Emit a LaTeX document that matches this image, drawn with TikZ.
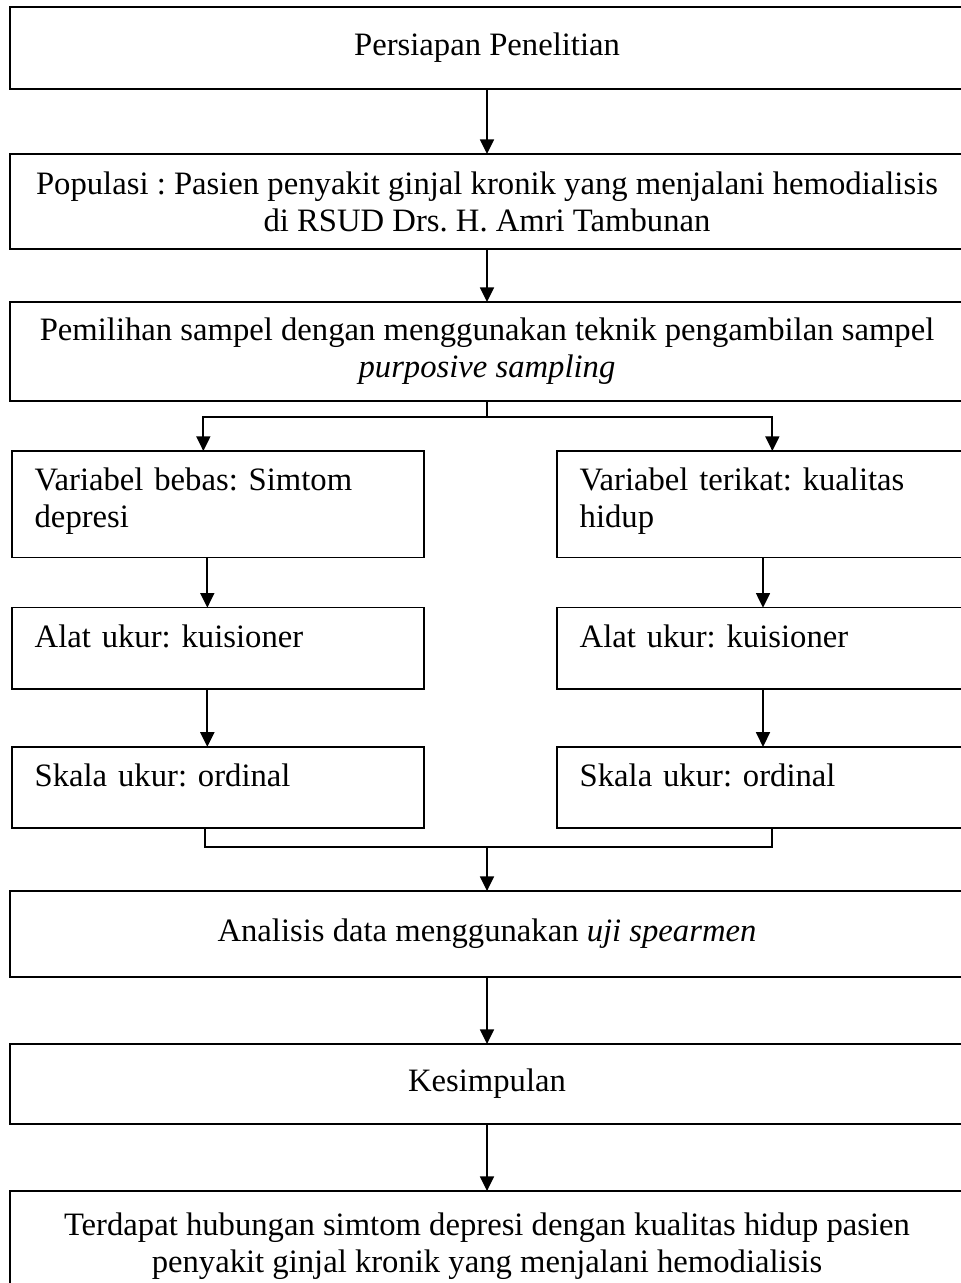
\documentclass[tikz,border=0pt]{standalone}
\usepackage{fontspec}
\setmainfont{Liberation Serif}
\frenchspacing
\usetikzlibrary{positioning,arrows.meta}
\tikzset{
  box/.style  ={draw, line width=1.3pt, inner sep=4pt, outer sep=0pt, align=center,
                font=\fontsize{24.5}{27.75}\selectfont},
  wide/.style ={box, minimum width=715.5pt},
  col/.style  ={draw, line width=1.1pt, inner xsep=17pt, inner ysep=12.75pt, outer sep=0pt,
                text width=275pt, align=left, text depth=18.4pt,
                font=\fontsize{24.5}{27.75}\selectfont},
  fl/.style   ={-{Triangle[length=11pt,width=10.5pt]}, line width=1.3pt},
  ln/.style   ={line width=1.3pt}
}

\begin{document}
\begin{tikzpicture}
  \clip (0,0) rectangle (720.75pt,-962.25pt);
  \node[wide, minimum height=61.5pt, anchor=north west] (prep) at (7.5pt,-5.25pt) {Persiapan Penelitian};
  \node[wide, minimum height=71.25pt, below=48.75pt of prep] (pop) {Populasi : Pasien penyakit ginjal kronik yang menjalani hemodialisis\\di RSUD Drs. H. Amri Tambunan};
  \node[wide, minimum height=74.25pt, below=39.75pt of pop] (pem) {Pemilihan sampel dengan menggunakan teknik pengambilan sampel\\\textit{purposive sampling}};

  % two branches, text sits at the top of each box
  \node[col, text depth=37.5pt, below right=37.5pt and 1.5pt of pem.south west] (bebas) {Variabel bebas: Simtom\\depresi};
  \node[col, text depth=37.5pt, right=99.75pt of bebas] (terikat) {Variabel terikat: kualitas\\hidup};
  \node[col, below=37.5pt of bebas] (alatA) {Alat ukur: kuisioner};
  \node[col, right=99.75pt of alatA] (alatB) {Alat ukur: kuisioner};
  \node[col, below=43.5pt of alatA] (skalaA) {Skala ukur: ordinal};
  \node[col, right=99.75pt of skalaA] (skalaB) {Skala ukur: ordinal};

  \coordinate[below=12pt of pem] (split);
  \coordinate (mid) at (skalaA.south -| pem.south);
  \coordinate[below=14.25pt of mid] (join);

  \node[wide, minimum height=64.5pt, below=47.25pt of mid] (anal) {Analisis data menggunakan \textit{uji spearmen}};
  \node[wide, minimum height=60pt, below=50.25pt of anal] (kes) {Kesimpulan};
  \node[wide, minimum height=82.5pt, below=50.25pt of kes] (hasil) {Terdapat hubungan simtom depresi dengan kualitas hidup pasien\\penyakit ginjal kronik yang menjalani hemodialisis};

  \draw[fl](prep)--(pop);
  \draw[fl](pop)--(pem);
  \draw[ln](pem)--(split);
  \draw[fl](split) -| ([xshift=-11pt]bebas.north);
  \draw[fl](split) -| ([xshift=7pt]terikat.north);
  \draw[fl]([xshift=-8pt]bebas.south)--([xshift=-8pt]alatA.north);
  \draw[fl]([xshift=-8pt]alatA.south)--([xshift=-8pt]skalaA.north);
  \draw[fl](terikat)--(alatB);
  \draw[fl](alatB)--(skalaB);
  \draw[ln]([xshift=-10pt]skalaA.south) |- (join) -| ([xshift=7pt]skalaB.south);
  \draw[fl](join)--(anal);
  \draw[fl](anal)--(kes);
  \draw[fl](kes)--(hasil);
\end{tikzpicture}
\end{document}
